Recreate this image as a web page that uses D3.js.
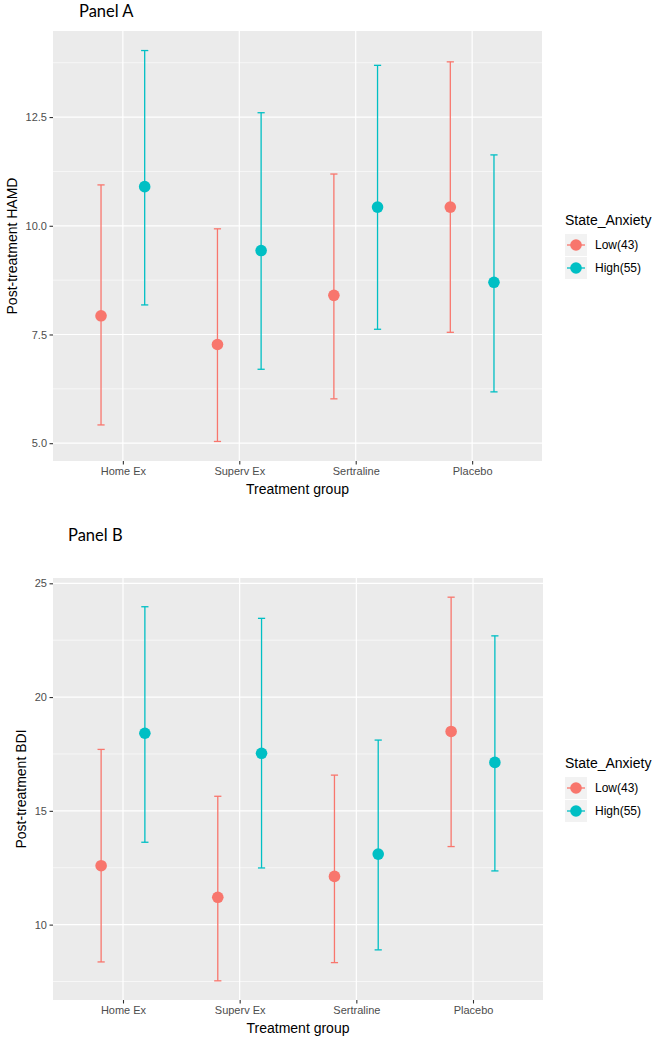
<!DOCTYPE html>
<html><head><meta charset="utf-8">
<script src="https://cdn.jsdelivr.net/npm/d3@7"></script>
<style>body{margin:0;background:#fff}svg{display:block}</style>
</head><body>
<svg id="chart" width="660" height="1043"></svg>
<script>
const categories = ["Home Ex", "Superv Ex", "Sertraline", "Placebo"];
const groups = ["Low(43)", "High(55)"];
const colors = ["#F8766D", "#00BFC4"];

// Panel A: HAMD (mean, lower, upper)
const hamdLowMean  = [7.93, 7.27, 8.40, 10.43];
const hamdLowLo    = [5.42, 5.04, 6.02, 7.55];
const hamdLowHi    = [10.94, 9.93, 11.19, 13.77];
const hamdHighMean = [10.90, 9.43, 10.43, 8.70];
const hamdHighLo   = [8.18, 6.70, 7.62, 6.18];
const hamdHighHi   = [14.03, 12.60, 13.69, 11.63];
const hamdTicks = [5.0, 7.5, 10.0, 12.5];

// Panel B: BDI
const bdiLowMean  = [12.59, 11.20, 12.12, 18.49];
const bdiLowLo    = [8.36, 7.53, 8.33, 13.43];
const bdiLowHi    = [17.70, 15.64, 16.57, 24.39];
const bdiHighMean = [18.41, 17.53, 13.10, 17.13];
const bdiHighLo   = [13.62, 12.49, 8.89, 12.36];
const bdiHighHi   = [23.97, 23.46, 18.11, 22.69];
const bdiTicks = [10, 15, 20, 25];

const svg = d3.select("#chart");
const axisFont = "'Liberation Sans', Arial, sans-serif";

function buildRows(lowM, lowL, lowH, highM, highL, highH) {
  const rows = [];
  categories.forEach((c, i) => {
    rows.push({cat: c, g: 0, m: lowM[i], lo: lowL[i], hi: lowH[i]});
    rows.push({cat: c, g: 1, m: highM[i], lo: highL[i], hi: highH[i]});
  });
  return rows;
}

function panel(opts) {
  const {top, bottom, left, right, rows, ticks, fmt, ytitle, ytitleX, title, titleX, titleY, legendY} = opts;
  const g = svg.append("g");
  const minV = d3.min(rows, d => d.lo), maxV = d3.max(rows, d => d.hi);
  const pad = (maxV - minV) * 0.05;
  const y = d3.scaleLinear().domain([minV - pad, maxV + pad]).range([bottom, top]);
  const x = d3.scalePoint().domain(categories).range([left, right]).padding(0.6);
  const dodge = x.step() * 0.1875;

  g.append("rect").attr("x", left).attr("y", top).attr("width", right - left).attr("height", bottom - top).attr("fill", "#EBEBEB");
  // minor grid
  const step = ticks[1] - ticks[0];
  const minor = [];
  for (let k = 0; k <= ticks.length; k++) {
    const v = ticks[0] - step / 2 + k * step;
    if (v > y.domain()[0] && v < y.domain()[1]) minor.push(v);
  }
  g.selectAll(".minor").data(minor).join("line")
    .attr("x1", left).attr("x2", right).attr("y1", d => y(d)).attr("y2", d => y(d))
    .attr("stroke", "#fff").attr("stroke-width", 0.6);
  g.selectAll(".major").data(ticks).join("line")
    .attr("x1", left).attr("x2", right).attr("y1", d => y(d)).attr("y2", d => y(d))
    .attr("stroke", "#fff").attr("stroke-width", 1.2);
  g.selectAll(".vmajor").data(categories).join("line")
    .attr("x1", d => x(d)).attr("x2", d => x(d)).attr("y1", top).attr("y2", bottom)
    .attr("stroke", "#fff").attr("stroke-width", 1.2);

  // axes
  const ya = g.append("g").attr("transform", `translate(${left},0)`)
    .call(d3.axisLeft(y).tickValues(ticks).tickFormat(d3.format(fmt)).tickSize(3.5).tickPadding(2.5));
  ya.select(".domain").remove();
  ya.selectAll("line").attr("stroke", "#333").attr("stroke-width", 1.1);
  ya.selectAll("text").attr("fill", "#4D4D4D").style("font-family", axisFont).style("font-size", "11px");
  const xa = g.append("g").attr("transform", `translate(0,${bottom})`)
    .call(d3.axisBottom(x).tickSize(3.5).tickPadding(3));
  xa.select(".domain").remove();
  xa.selectAll("line").attr("stroke", "#333").attr("stroke-width", 1.1);
  xa.selectAll("text").attr("fill", "#4D4D4D").style("font-family", axisFont).style("font-size", "11px");

  g.append("text").attr("x", (left + right) / 2).attr("y", bottom + 33).attr("text-anchor", "middle")
    .style("font-family", axisFont).style("font-size", "14px").attr("fill", "#000").text("Treatment group");
  g.append("text").attr("transform", `translate(${ytitleX},${(top + bottom) / 2}) rotate(-90)`)
    .attr("text-anchor", "middle").attr("dy", "0.35em")
    .style("font-family", axisFont).style("font-size", "14px").attr("fill", "#000").text(ytitle);
  g.append("text").attr("x", titleX).attr("y", titleY)
    .style("font-family", "Lato, 'Open Sans', sans-serif").style("font-size", "16.5px").attr("fill", "#000").text(title);

  // marks
  const cx = d => x(d.cat) + (d.g === 0 ? -dodge : dodge);
  const mk = g.selectAll(".mk").data(rows).join("g");
  mk.append("line").attr("x1", cx).attr("x2", cx).attr("y1", d => y(d.lo)).attr("y2", d => y(d.hi))
    .attr("stroke", d => colors[d.g]).attr("stroke-width", 1.3);
  mk.append("line").attr("x1", d => cx(d) - 3.6).attr("x2", d => cx(d) + 3.6).attr("y1", d => y(d.lo)).attr("y2", d => y(d.lo))
    .attr("stroke", d => colors[d.g]).attr("stroke-width", 1.3);
  mk.append("line").attr("x1", d => cx(d) - 3.6).attr("x2", d => cx(d) + 3.6).attr("y1", d => y(d.hi)).attr("y2", d => y(d.hi))
    .attr("stroke", d => colors[d.g]).attr("stroke-width", 1.3);
  mk.append("circle").attr("cx", cx).attr("cy", d => y(d.m)).attr("r", 5.8).attr("fill", d => colors[d.g]);

  // legend
  const lx = 565;
  const lg = g.append("g");
  lg.append("text").attr("x", lx).attr("y", legendY).attr("dy", "0.35em")
    .style("font-family", axisFont).style("font-size", "14px").attr("fill", "#000").text("State_Anxiety");
  groups.forEach((name, i) => {
    const ky = legendY + 14 + i * 23;
    lg.append("rect").attr("x", lx).attr("y", ky).attr("width", 22).attr("height", 22).attr("fill", "#F2F2F2");
    lg.append("line").attr("x1", lx + 2).attr("x2", lx + 20).attr("y1", ky + 11).attr("y2", ky + 11)
      .attr("stroke", colors[i]).attr("stroke-width", 1.3);
    lg.append("circle").attr("cx", lx + 11).attr("cy", ky + 11).attr("r", 5.8).attr("fill", colors[i]);
    lg.append("text").attr("x", lx + 30).attr("y", ky + 11).attr("dy", "0.35em")
      .style("font-family", axisFont).style("font-size", "12px").attr("fill", "#000").text(name);
  });
}

panel({top: 31, bottom: 461, left: 53, right: 542,
  rows: buildRows(hamdLowMean, hamdLowLo, hamdLowHi, hamdHighMean, hamdHighLo, hamdHighHi),
  ticks: hamdTicks, fmt: ".1f", ytitle: "Post-treatment HAMD", ytitleX: 12,
  title: "Panel A", titleX: 79, titleY: 17, legendY: 220});

panel({top: 578, bottom: 1000, left: 53, right: 543,
  rows: buildRows(bdiLowMean, bdiLowLo, bdiLowHi, bdiHighMean, bdiHighLo, bdiHighHi),
  ticks: bdiTicks, fmt: "d", ytitle: "Post-treatment BDI", ytitleX: 21,
  title: "Panel B", titleX: 68, titleY: 541, legendY: 763});
</script>
</body></html>
